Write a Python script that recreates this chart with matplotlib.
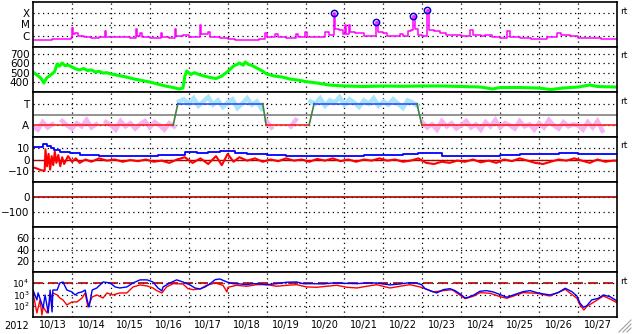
import numpy as np
import matplotlib
matplotlib.use("Agg")
from matplotlib import pyplot as plt
from matplotlib.lines import Line2D
from matplotlib.ticker import FixedLocator, NullLocator

plt.rcParams['font.family'] = ['DejaVu Sans']
plt.rcParams['mathtext.fontset'] = 'dejavusans'

# time axis: day of October 2012 (UT)
day_edges = list(range(14, 28))
day_mid = [13.5 + i for i in range(15)]
day_labels = ['10/13', '10/14', '10/15', '10/16', '10/17', '10/18', '10/19', '10/20',
              '10/21', '10/22', '10/23', '10/24', '10/25', '10/26', '10/27']

# GOES X-ray flux (W/m2)
xray_day = [13.00, 13.30, 13.50, 13.70, 13.90, 13.97, 14.00, 14.03, 14.08, 14.15, 14.30, 14.50,
            14.70, 14.84, 14.88, 15.10, 15.30, 15.50, 15.64, 15.67, 15.75, 15.80, 16.00, 16.28,
            16.32, 16.50, 16.64, 16.68, 16.85, 17.00, 17.28, 17.31, 17.50, 17.55, 17.80, 18.00,
            18.20, 18.50, 18.80, 18.95, 19.00, 19.22, 19.30, 19.50, 19.76, 19.80, 19.99, 20.05,
            20.30, 20.50, 20.60, 20.72, 20.76, 20.85, 20.95, 21.01, 21.05, 21.12, 21.15, 21.27,
            21.40, 21.50, 21.70, 21.81, 21.85, 21.99, 22.10, 22.43, 22.50, 22.63, 22.70, 22.76,
            22.80, 22.90, 23.00, 23.12, 23.16, 23.30, 23.45, 23.60, 23.84, 24.00, 24.23, 24.30,
            24.50, 24.61, 24.80, 25.00, 25.18, 25.25, 25.50, 25.80, 26.00, 26.20, 26.46, 26.55,
            26.80, 27.00, 27.30, 27.60, 28.00]
xray_flux = [4.5e-7, 4.2e-7, 5e-7, 4.8e-7, 5.2e-7, 6e-7, 4.6e-6, 1.5e-6, 1.8e-6, 9e-7, 7e-7, 6.5e-7,
             7e-7, 2.6e-6, 8e-7, 7e-7, 7.5e-7, 6.5e-7, 4e-6, 1e-6, 1.8e-6, 7e-7, 6e-7, 1.8e-6,
             7e-7, 6.5e-7, 4e-6, 9e-7, 1.2e-6, 7e-7, 8.5e-6, 1.5e-6, 2.2e-6, 7e-7, 6e-7, 5.5e-7,
             4.2e-7, 4e-7, 5e-7, 1.8e-6, 7e-7, 1.4e-6, 7e-7, 6e-7, 1.4e-6, 7e-7, 2.2e-6, 8e-7,
             7.5e-7, 2.2e-6, 1.2e-6, 9.9e-5, 4e-6, 3e-6, 1.5e-6, 9e-6, 1.5e-6, 9e-6, 2e-6, 1.8e-6,
             1.8e-6, 9e-7, 1e-6, 1.6e-5, 2e-6, 1.8e-6, 9e-7, 1.4e-6, 1e-6, 2.6e-6, 3e-6, 5.7e-5,
             4e-6, 1.2e-6, 1e-6, 1.8e-4, 3e-6, 2.5e-6, 1.6e-6, 1.2e-6, 1.2e-6, 9e-7, 3.2e-6, 1.2e-6,
             1e-6, 1.2e-6, 7e-7, 6.5e-7, 2.6e-6, 7e-7, 6e-7, 5.5e-7, 5e-7, 7e-7, 1.8e-6, 1.2e-6,
             9e-7, 6e-7, 6e-7, 5.5e-7, 5.5e-7]
flare_day = [20.72, 21.81, 22.76, 23.12]
flare_flux = [9.9e-5, 1.6e-5, 5.7e-5, 1.8e-4]

# solar wind speed (km/s)
speed_day = [13.00, 13.10, 13.20, 13.28, 13.35, 13.45, 13.55, 13.62, 13.68, 13.75, 13.82, 13.90,
             14.00, 14.10, 14.20, 14.30, 14.40, 14.50, 14.60, 14.70, 14.80, 14.90, 15.00, 15.20,
             15.40, 15.60, 15.80, 16.00, 16.20, 16.40, 16.60, 16.75, 16.85, 16.90, 16.95, 17.05,
             17.15, 17.30, 17.50, 17.70, 17.85, 18.00, 18.10, 18.15, 18.25, 18.30, 18.40, 18.45,
             18.55, 18.60, 18.70, 18.80, 18.90, 19.00, 19.20, 19.40, 19.60, 19.80, 20.00, 20.30,
             20.60, 21.00, 21.50, 22.00, 22.50, 23.00, 23.50, 24.00, 24.50, 24.80, 25.00, 25.50,
             26.00, 26.30, 26.60, 27.00, 27.30, 27.50, 28.00]
speed = [507, 475, 443, 389, 443, 475, 507, 593, 570, 604, 575, 582,
         561, 540, 529, 545, 523, 530, 507, 515, 496, 500, 486, 470,
         453, 432, 416, 400, 378, 357, 341, 325, 335, 464, 518, 480,
         500, 475, 453, 437, 464, 512, 550, 571, 590, 604, 580, 614,
         585, 582, 560, 539, 515, 486, 464, 453, 432, 421, 405, 389,
         368, 357, 352, 357, 354, 357, 357, 352, 346, 325, 341, 341,
         335, 319, 335, 346, 368, 352, 346]

# IMF sector: +1 toward, -1 away
sector_day = [13.00, 16.60, 16.72, 18.90, 18.99, 20.09, 20.22, 22.86, 22.99, 28.00]
sector_side = [-1, -1, 1, 1, -1, -1, 1, 1, -1, -1]
# IMF angle index, 3-hourly from 10/13 00UT
phi = [-1.1, -1.4, -0.7, -1.2, -0.9, 1.3, -0.6, -1.0,
       -1.3, -0.8, -1.1, -0.5, -1.2, -0.9, 1.1, -0.7,
       -1.0, -1.4, -0.6, -1.1, -0.8, -1.3, -0.9, -0.6,
       -1.2, -0.7, -1.0, -1.4, -0.8, -1.1, 1.2, 1.4,
       1.0, 1.5, 0.8, 1.2, 1.6, 0.9, 1.3, 0.7,
       1.1, 1.4, 0.6, 1.0, 1.5, 0.9, 1.2, 0.5,
       -0.6, -1.2, 1.0, -0.8, 1.3, -1.1, -0.5, 0.9,
       -0.9, 1.2, 1.0, 1.5, 0.8, 1.3, 1.1, 1.6,
       0.9, 1.4, 1.1, 0.7, 1.3, 1.0, 1.5, 0.8,
       1.2, 0.9, 1.4, 1.0, 0.6, 1.3, 1.1, 0.8,
       -0.7, -1.2, -0.9, -1.4, -0.6, -1.1, -0.8, -1.3,
       -1.0, -0.6, -1.2, -0.9, -1.4, -0.7, -1.1, -0.5,
       -1.2, -0.8, -1.0, -1.3, -0.6, -1.1, -0.9, -1.4,
       -0.8, -1.2, -0.5, -1.0, -1.3, -0.7, -1.1, -0.9,
       -1.0, -1.4, -0.7, -1.2, -0.6, -1.5, 1.4, -0.8]

# IMF Bt and Bz (nT)
bt_day = [13.00, 13.15, 13.25, 13.35, 13.45, 13.55, 13.70, 13.95, 14.20, 14.45, 14.70, 15.00,
          15.50, 15.90, 16.20, 16.50, 16.90, 17.20, 17.50, 17.80, 18.00, 18.20, 18.50, 19.00,
          19.50, 20.00, 20.50, 21.00, 21.50, 22.00, 22.50, 22.90, 23.20, 23.50, 24.00, 24.50,
          25.00, 25.50, 26.00, 26.50, 27.00, 27.50, 28.00]
bt = [11.4, 11.5, 13.5, 12.0, 10.0, 8.4, 6.7, 5.8, 4.0, 3.6, 3.1, 3.0,
      3.2, 3.5, 4.0, 4.0, 6.5, 6.0, 6.5, 8.0, 7.5, 6.0, 4.5, 4.0,
      3.5, 3.0, 3.0, 3.2, 4.0, 4.0, 4.5, 5.8, 5.5, 3.5, 3.0, 3.2,
      4.0, 5.0, 5.2, 5.5, 5.2, 5.0, 5.0]
bz_day = [13.00, 13.10, 13.20, 13.30, 13.32, 13.36, 13.40, 13.44, 13.48, 13.52, 13.56, 13.60,
          13.65, 13.70, 13.75, 13.80, 13.90, 14.00, 14.10, 14.20, 14.35, 14.50, 14.70, 14.90,
          15.10, 15.30, 15.50, 15.70, 15.90, 16.10, 16.30, 16.50, 16.70, 16.90, 17.10, 17.30,
          17.50, 17.70, 17.85, 18.00, 18.15, 18.30, 18.50, 18.70, 18.90, 19.10, 19.30, 19.50,
          19.70, 19.90, 20.10, 20.30, 20.50, 20.70, 20.90, 21.10, 21.30, 21.50, 21.70, 21.90,
          22.10, 22.30, 22.50, 22.70, 22.90, 23.10, 23.30, 23.50, 23.70, 23.90, 24.10, 24.30,
          24.50, 24.70, 24.90, 25.10, 25.30, 25.50, 25.70, 25.90, 26.10, 26.30, 26.50, 26.70,
          26.90, 27.10, 27.30, 27.50, 27.70, 27.90, 28.00]
bz = [-7, -8, -9.5, -10, 9, -6, 5, -9, 3, -5, 7, -3,
      4, -6, 2, -4, 3, -2, 1, -3, 0, -2, 1, -1,
      0, -2, -0.5, -1.5, 0, -2, -1, -3, 0, 2, -3, 1,
      -4, 3, -5, 5, -2, 2, -1, 1, -2, 0, -1.5, 1,
      -1, 0, -2, 0.5, -1, 1, -1.5, 0, -2, 0, -1, 1,
      -1, 0, -2, -1, 1, -3, -4, -2, -3, -1, -2, 0,
      -2.5, -1, -3, 0, -1.5, 1, -1, -3, -4, -2, 0, -1,
      1, -1, -3, 0, -2, -1, -1]

# electron flux, two channels
flux_b_day = [13.00, 13.10, 13.13, 13.26, 13.31, 13.39, 13.44, 13.49, 13.51, 13.62, 13.69, 13.77,
              13.87, 14.00, 14.08, 14.16, 14.26, 14.34, 14.39, 14.44, 14.52, 14.64, 14.80, 14.98,
              15.11, 15.23, 15.41, 15.57, 15.75, 15.93, 16.08, 16.21, 16.31, 16.34, 16.52, 16.69,
              16.85, 17.03, 17.16, 17.29, 17.42, 17.55, 17.68, 17.80, 17.98, 18.14, 18.32, 18.49,
              18.65, 18.83, 19.00, 19.26, 19.52, 19.77, 19.94, 20.19, 20.45, 20.71, 20.96, 21.32,
              21.57, 21.83, 21.99, 22.17, 22.43, 22.68, 22.86, 22.98, 23.07, 23.20, 23.37, 23.54,
              23.71, 23.84, 23.97, 24.10, 24.18, 24.31, 24.48, 24.65, 24.82, 25.00, 25.17, 25.34,
              25.59, 25.77, 25.94, 26.11, 26.28, 26.49, 26.67, 26.84, 26.97, 27.05, 27.14, 27.22,
              27.35, 27.52, 27.65, 27.82, 27.99]
flux_b = [2.5e3, 330, 1.4e3, 64, 910, 23, 2.5e3, 28, 2.5e3, 2.5e3, 1.06e4, 1.3e4,
          2.5e3, 1.7e3, 910, 1.4e3, 1.7e3, 2.5e3, 330, 78, 2.5e3, 3.8e3, 1.3e4, 1.06e4,
          4.7e3, 3.8e3, 4.7e3, 1.06e4, 2.0e4, 2.0e4, 1.3e4, 3.8e3, 2.1e3, 4.7e3, 1.06e4, 2.0e4,
          1.3e4, 7.1e3, 3.8e3, 3.1e3, 4.7e3, 9.2e3, 2.1e4, 2.4e4, 1.3e4, 9.2e3, 8.7e3, 7.5e3,
          9.2e3, 8.7e3, 7.5e3, 9.2e3, 1.23e4, 1.3e4, 9.2e3, 9.2e3, 8.7e3, 1.06e4, 1.0e4, 9.2e3,
          1.06e4, 1.06e4, 8.7e3, 7.1e3, 8.7e3, 1.13e4, 1.0e4, 7.5e3, 3.3e3, 2.2e3, 1.37e3, 2.7e3,
          3.3e3, 2.2e3, 1.12e3, 490, 570, 860, 1.95e3, 2.2e3, 1.7e3, 970, 570, 910,
          1.8e3, 2.2e3, 1.46e3, 1.12e3, 910, 1.46e3, 3.6e3, 1.8e3, 740, 167, 74, 96,
          330, 460, 910, 640, 280]
flux_r_day = [13.00, 13.05, 13.10, 13.18, 13.23, 13.26, 13.36, 13.44, 13.51, 13.62, 13.69, 13.77,
              13.87, 14.00, 14.13, 14.26, 14.34, 14.41, 14.52, 14.64, 14.80, 14.90, 15.05, 15.23,
              15.41, 15.57, 15.75, 15.93, 16.08, 16.18, 16.31, 16.43, 16.60, 16.85, 16.98, 17.11,
              17.29, 17.46, 17.68, 17.88, 17.98, 18.01, 18.23, 18.49, 18.75, 19.00, 19.26, 19.52,
              19.77, 20.03, 20.29, 20.54, 20.80, 21.06, 21.32, 21.57, 21.83, 21.99, 22.17, 22.43,
              22.68, 22.94, 23.07, 23.28, 23.54, 23.76, 23.97, 24.10, 24.31, 24.48, 24.74, 25.00,
              25.17, 25.59, 25.94, 26.28, 26.67, 26.97, 27.05, 27.15, 27.22, 27.52, 27.65, 27.87,
              27.99]
flux_r = [1.37e3, 177, 23, 330, 15, 78, 23, 330, 1.37e3, 910, 490, 330,
          118, 218, 218, 490, 1.37e3, 78, 600, 910, 490, 1.37e3, 910, 1.37e3,
          1.37e3, 4.7e3, 7.1e3, 5.75e3, 3.8e3, 2.2e3, 1.37e3, 4.7e3, 9.2e3, 8.7e3, 3.3e3, 2.7e3,
          3.1e3, 6.6e3, 1.06e4, 6.6e3, 1.7e3, 4.4e3, 6.6e3, 5.4e3, 7.5e3, 7.5e3, 5.4e3, 6.6e3,
          7.5e3, 4.7e3, 4.4e3, 5.4e3, 6.6e3, 4.4e3, 3.8e3, 5.4e3, 7.5e3, 5.4e3, 3.8e3, 5.4e3,
          7.5e3, 4.7e3, 3.3e3, 1.7e3, 2.2e3, 2.7e3, 860, 430, 700, 1.46e3, 1.29e3, 640,
          460, 1.46e3, 1.29e3, 740, 2.9e3, 460, 118, 42, 83, 380, 740, 330,
          190]

W, H = 633, 334
fig = plt.figure(figsize=(W / 100, H / 100), dpi=100)
L, R = 33 / W, 617 / W
dot = (0, (1, 2.8))
DARKRED = '#b00000'
YFS = 7.5

axes = []
for i in range(7):
    top = 2 + 45 * i
    ax = fig.add_axes([L, 1 - (top + 45) / H, R - L, 45 / H])
    ax.set_xlim(13, 28)
    ax.xaxis.set_major_locator(FixedLocator(day_edges))
    ax.set_xticklabels([])
    ax.set_axisbelow(True)
    ax.grid(True, which='major', color='k', linestyle=dot, linewidth=0.9)
    ax.tick_params(which='both', length=0, labelsize=YFS, pad=2.5)
    for s in ax.spines.values():
        s.set_linewidth(1.2)
    axes.append(ax)

# 1: X-ray
ax = axes[0]
ax.set_yscale('log')
ax.set_ylim(1e-7, 1e-3)
ax.yaxis.set_major_locator(FixedLocator([1e-6, 1e-5, 1e-4]))
ax.yaxis.set_minor_locator(NullLocator())
ax.set_yticklabels(['C', 'M', 'X'])
ax.plot(xray_day, xray_flux, color='#ff00ff', lw=1.1, drawstyle='steps-post')
ax.plot(flare_day, flare_flux, 'o', mfc='none', mec='#0000d0', ms=4.5, mew=1.1)

# 2: solar wind speed
ax = axes[1]
ax.set_ylim(293, 775)
ax.set_yticks([400, 500, 600, 700])
ax.plot(speed_day, speed, color='#00ff00', lw=2.2)

# 3: sector
ax = axes[2]
ax.set_ylim(-2.07, 2.07)
ax.set_yticks([-1, 1])
ax.set_yticklabels(['A', 'T'])
phi_day = 13 + 0.125 * np.arange(len(phi))
phi_a = np.array(phi)
ax.plot(phi_day, np.where(phi_a < 0, phi_a, np.nan), color='#f5b5f5', lw=3.2,
        solid_joinstyle='miter')
ax.plot(phi_day, np.where(phi_a > 0, phi_a, np.nan), color='#a8e4fa', lw=3.2,
        solid_joinstyle='miter')
ax.axhline(0, color='#808080', lw=1.2)
for k in range(len(sector_day) - 1):
    a, b = sector_side[k], sector_side[k + 1]
    c = '#408040' if a != b else ('#3050ff' if a > 0 else '#ff2020')
    ax.plot(sector_day[k:k + 2], sector_side[k:k + 2], color=c, lw=1.2)

# 4: IMF
ax = axes[3]
ax.set_ylim(-20, 20)
ax.set_yticks([-10, 0, 10])
ax.axhline(0, color=DARKRED, lw=1.0)
ax.plot(bz_day, bz, color='#ff0000', lw=1.5)
ax.plot(bt_day, bt, color='#0000ff', lw=1.3, drawstyle='steps-post')

# 5: Dst (no data)
ax = axes[4]
ax.set_ylim(-200, 100)
ax.set_yticks([-100, 0])
ax.axhline(0, color=DARKRED, lw=1.2)

# 6: Kp (no data)
ax = axes[5]
ax.set_ylim(0, 80)
ax.set_yticks([20, 40, 60])

# 7: electron flux
ax = axes[6]
ax.set_yscale('log')
ax.set_ylim(10, 1e5)
ax.yaxis.set_major_locator(FixedLocator([1e2, 1e3, 1e4]))
ax.yaxis.set_minor_locator(NullLocator())
ax.tick_params(axis='y', labelsize=6.5)
ax.axhline(1e4, color=DARKRED, lw=1.2, linestyle=(0, (6, 3)))
ax.plot(flux_r_day, flux_r, color='#ff0000', lw=1.0)
ax.plot(flux_b_day, flux_b, color='#0000ff', lw=1.0)
ax.set_xticks(day_mid, minor=True)
ax.set_xticklabels(day_labels, minor=True, fontsize=7)
ax.tick_params(axis='x', which='minor', pad=2)

fig.text(4 / W, 1 - 326 / H, '2012', ha='left', va='center', fontsize=7)
for i in [0, 1, 2, 3, 6]:
    fig.text(620 / W, 1 - (2 + 45 * i + 9) / H, 'rt', ha='left', va='center', fontsize=6.5)

# resize grip
for k in range(3):
    d = 4 * (k + 1)
    fig.add_artist(Line2D([(W - 2 - d) / W, (W - 2) / W], [2 / H, (2 + d) / H],
                          color='#a0a0a0', lw=0.8))

fig.savefig('out.png', dpi=100)
